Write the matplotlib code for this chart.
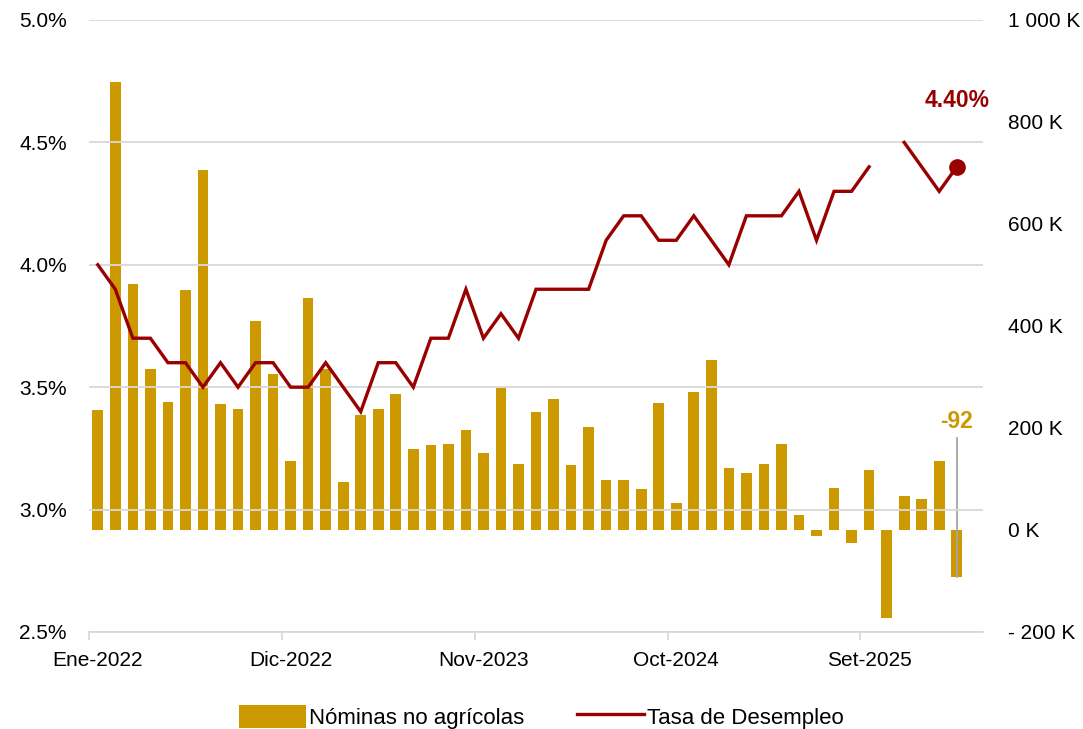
import numpy as np
import matplotlib
matplotlib.use('Agg')
import matplotlib.pyplot as plt
from matplotlib.patches import Patch
from matplotlib.lines import Line2D

plt.rcParams['font.family'] = ['Liberation Sans', 'DejaVu Sans']

# datos mensuales Ene-2022 .. Feb-2026
nominas = [235, 878, 482, 316, 251, 471, 706, 247, 237, 410, 306, 135,
           455, 316, 94, 225, 237, 267, 159, 167, 169, 196, 151, 278,
           129, 231, 257, 127, 202, 98, 98, 80, 249, 53, 271, 333,
           122, 112, 129, 169, 29, -12, 82, -25, 118, -173, 67, 61,
           135, -92]
desempleo = [4.0, 3.9, 3.7, 3.7, 3.6, 3.6, 3.5, 3.6, 3.5, 3.6, 3.6, 3.5,
             3.5, 3.6, 3.5, 3.4, 3.6, 3.6, 3.5, 3.7, 3.7, 3.9, 3.7, 3.8,
             3.7, 3.9, 3.9, 3.9, 3.9, 4.1, 4.2, 4.2, 4.1, 4.1, 4.2, 4.1,
             4.0, 4.2, 4.2, 4.2, 4.3, 4.1, 4.3, 4.3, 4.4, np.nan, 4.5, 4.4,
             4.3, 4.4]
tick_pos = [0, 11, 22, 33, 44]
tick_lab = ['Ene-2022', 'Dic-2022', 'Nov-2023', 'Oct-2024', 'Set-2025']
left_ticks = [2.5, 3.0, 3.5, 4.0, 4.5, 5.0]
right_ticks = [-200, 0, 200, 400, 600, 800, 1000]
right_lab = ['- 200 K', '0 K', '200 K', '400 K', '600 K', '800 K', '1 000 K']

oro = '#CC9900'
rojo = '#990000'
gris = '#D9D9D9'

x = np.arange(len(nominas))

fig = plt.figure(figsize=(10.83, 7.29), dpi=100)
ax = fig.add_axes([0.0822, 0.1331, 0.8255, 0.8395])
ax2 = ax.twinx()

# barras en el eje derecho
ax2.bar(x, nominas, width=0.61, color=oro, zorder=2)
ax2.set_ylim(-200, 1000)
ax2.set_yticks(right_ticks)
ax2.set_yticklabels(right_lab)

# linea en el eje izquierdo, por encima de las barras
ax.set_zorder(ax2.get_zorder() + 1)
ax.patch.set_visible(False)
ax.plot(x, desempleo, color=rojo, lw=2.4, zorder=3, solid_joinstyle='miter')
ax.plot(x[-1], desempleo[-1], 'o', color=rojo, ms=11, zorder=4)
ax.set_ylim(2.5, 5.0)
ax.set_yticks(left_ticks)
ax.set_yticklabels(['%.1f%%' % v for v in left_ticks])
ax.set_xlim(-0.5, 50.5)
ax.grid(axis='y', color=gris, lw=1.3)
ax.set_axisbelow(True)

# ticks del eje x: marcas entre categorias, etiquetas centradas
ax.set_xticks(tick_pos)
ax.set_xticklabels(tick_lab)
ax.set_xticks([p - 0.5 for p in tick_pos], minor=True)
ax.tick_params(axis='x', which='major', length=0, pad=14, labelsize=15)
ax.tick_params(axis='x', which='minor', length=6, color=gris, width=1.3)
ax.tick_params(axis='y', length=0, pad=16, labelsize=15)
ax2.tick_params(axis='y', length=0, pad=18, labelsize=15)

for a in (ax, ax2):
    for s in ('top', 'left', 'right'):
        a.spines[s].set_visible(False)
ax.spines['bottom'].set_color(gris)
ax.spines['bottom'].set_linewidth(1.3)
ax2.spines['bottom'].set_visible(False)

# anotaciones
ax.annotate('%.2f%%' % desempleo[-1], (x[-1], desempleo[-1]), xytext=(0, 48),
            textcoords='offset points', ha='center', va='center',
            color=rojo, fontsize=16.5, fontweight='bold')
ax2.plot([x[-1], x[-1]], [nominas[-1], 180], color='#A6A6A6', lw=1.3, zorder=3)
ax2.text(x[-1], 212, '%d' % nominas[-1], ha='center', va='center',
         color=oro, fontsize=16.5, fontweight='bold')

handles = [Patch(facecolor=oro), Line2D([0], [0], color=rojo, lw=2.4)]
fig.legend(handles, ['Nóminas no agrícolas', 'Tasa de Desempleo'],
           loc='lower center', bbox_to_anchor=(0.5, -0.027), ncol=2, frameon=False,
           handlelength=3.0, handleheight=1.2, columnspacing=2.4,
           handletextpad=0.15,
           prop={'family': ['Liberation Sans Narrow', 'Liberation Sans'], 'size': 16})

fig.savefig('out.png', dpi=100)
